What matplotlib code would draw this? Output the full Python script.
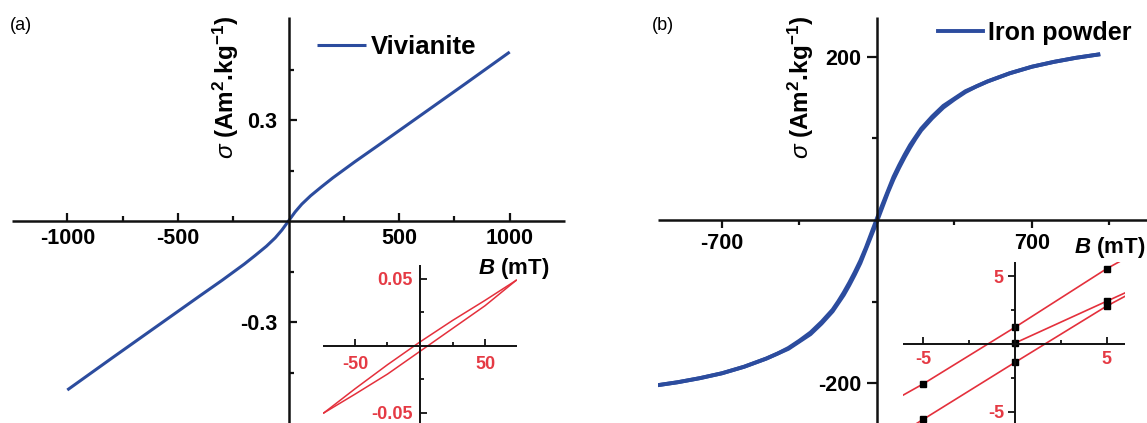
import matplotlib
matplotlib.use("Agg")
import matplotlib.pyplot as plt

# ---------------- data ----------------
viv_B = [-1000, -800, -600, -400, -300, -200, -150, -100, -60, -30, 0,
         30, 60, 100, 150, 200, 300, 400, 600, 800, 1000]
viv_sigma = [-0.502, -0.408, -0.315, -0.222, -0.176, -0.128, -0.102, -0.075, -0.050, -0.027, 0.0,
             0.027, 0.050, 0.075, 0.102, 0.128, 0.176, 0.222, 0.315, 0.408, 0.502]

loopa_B_desc = [74, 50, 25, 0, -25, -50, -74]
loopa_sig_desc = [0.049, 0.034, 0.019, 0.003, -0.014, -0.032, -0.050]
loopa_B_asc = [-74, -50, -25, 0, 25, 50, 74]
loopa_sig_asc = [-0.050, -0.036, -0.021, -0.004, 0.013, 0.030, 0.049]

iron_B = [-1000, -900, -800, -700, -600, -500, -450, -400, -350, -300, -250, -200, -175,
          -150, -125, -100, -75, -50, -25, 0, 25, 50, 75, 100, 125, 150, 175, 200, 250,
          300, 350, 400, 450, 500, 600, 700, 800, 900, 1000]
iron_sig_desc = [-203, -199, -194, -188, -180, -170, -164, -157, -148, -138, -125, -110, -100,
                 -89, -77, -64, -50, -34, -16, 2, 19, 36, 53, 67, 80, 92, 102, 112, 127,
                 140, 149, 158, 164, 170, 180, 188, 194, 199, 203]
iron_sig_asc = [-203, -199, -194, -188, -180, -170, -164, -158, -149, -140, -127, -112, -102,
                -92, -80, -67, -53, -36, -19, -2, 16, 34, 50, 64, 77, 89, 100, 110, 125,
                138, 148, 157, 164, 170, 180, 188, 194, 199, 203]

loopb_B_desc = [5.7, 5, 0, -5, -6.1]
loopb_sig_desc = [6.05, 5.53, 1.23, -2.92, -3.75]
loopb_B_asc = [-6.1, -5, 0, 5, 6.0]
loopb_sig_asc = [-6.45, -5.53, -1.35, 2.78, 3.50]
loopb_B_init = [0, 5, 6.0]
loopb_sig_init = [0.07, 3.14, 3.75]

a_xmajor = [-1000, -500, 500, 1000]
a_xmajor_lbl = ["-1000", "-500", "500", "1000"]
a_xminor = [-750, -250, 250, 750]
a_ymajor = [-0.3, 0.3]
a_ymajor_lbl = ["-0.3", "0.3"]
a_yminor = [-0.45, -0.15, 0.15, 0.45]

b_xmajor = [-700, 700]
b_xmajor_lbl = ["-700", "700"]
b_xminor = [-350, 350, 1050]
b_ymajor = [-200, 200]
b_ymajor_lbl = ["-200", "200"]
b_yminor = [-100, 100]

ia_xmajor = [-50, 50]; ia_xmajor_lbl = ["-50", "50"]; ia_xminor = [-25, 25]
ia_ymajor = [-0.05, 0.05]; ia_ymajor_lbl = ["-0.05", "0.05"]; ia_yminor = [-0.025, 0.025]
ib_xmajor = [-5, 5]; ib_xmajor_lbl = ["-5", "5"]; ib_xminor = [-2.5, 2.5]
ib_ymajor = [-5, 5]; ib_ymajor_lbl = ["-5", "5"]; ib_yminor = [-2.5, 2.5]

# ---------------- style ----------------
plt.rcParams['font.family'] = ['Liberation Sans', 'DejaVu Sans']
plt.rcParams['mathtext.fontset'] = 'custom'
plt.rcParams['mathtext.rm'] = 'Liberation Sans:bold'
plt.rcParams['mathtext.bf'] = 'Liberation Sans:bold'
plt.rcParams['mathtext.it'] = 'Liberation Sans:bold:italic'
plt.rcParams['mathtext.sf'] = 'Liberation Sans:italic'

BLUE = '#2c4c9e'
RED = '#e4303c'
RED_TXT = '#e53a44'

W, H = 1147, 423
fig = plt.figure(figsize=(W / 100, H / 100), dpi=100)


def rect(x0, y0, x1, y1):
    return [x0 / W, 1 - y1 / H, (x1 - x0) / W, (y1 - y0) / H]


def fx(x):
    return x / W


def fy(y):
    return 1 - y / H


def setup(ax, xlim, ylim, lw, xdir, ydir, major_len, minor_len, tw):
    ax.set_xlim(*xlim)
    ax.set_ylim(*ylim)
    ax.set_facecolor('none')
    for s in ('top', 'right'):
        ax.spines[s].set_visible(False)
    for s in ('left', 'bottom'):
        ax.spines[s].set_position(('data', 0))
        ax.spines[s].set_linewidth(lw)
        ax.spines[s].set_color('#111111')
        ax.spines[s].set_capstyle('butt')
    ax.tick_params(axis='x', which='both', direction=xdir, width=tw, color='#111111')
    ax.tick_params(axis='y', which='both', direction=ydir, width=tw, color='#111111')
    ax.tick_params(which='major', length=major_len)
    ax.tick_params(which='minor', length=minor_len)


YLABEL = r'$\mathsf{\sigma}$ (Am$^{2}$.kg$^{-1}$)'

# ---------------- panel (a) ----------------
axa = fig.add_axes(rect(12, 17, 565, 423))
setup(axa, (-1250, 1250), (-0.6, 0.606), 1.8, 'in', 'in', 6, 3.5, 1.6)
axa.plot(viv_B, viv_sigma, color=BLUE, lw=2.2, solid_capstyle='butt',
         solid_joinstyle='round', label='Vivianite')
axa.set_xticks(a_xmajor)
axa.set_xticklabels(a_xmajor_lbl)
axa.set_xticks(a_xminor, minor=True)
axa.set_yticks(a_ymajor)
axa.set_yticklabels(a_ymajor_lbl)
axa.set_yticks(a_yminor, minor=True)
axa.tick_params(axis='x', labelsize=15.5, pad=5)
axa.tick_params(axis='y', labelsize=15.5, pad=8)
for t in axa.get_xticklabels() + axa.get_yticklabels():
    t.set_fontweight('bold')
axa.legend(loc='center left', bbox_to_anchor=(fx(317), fy(47)), bbox_transform=fig.transFigure,
           frameon=False, prop={'weight': 'bold', 'size': 18.5},
           handlelength=1.9, handletextpad=0.2, borderpad=0, borderaxespad=0)

# inset (a)
ia = fig.add_axes(rect(323, 265, 517, 423))
setup(ia, (-74.6, 74.6), (-0.0575, 0.0604), 1.4, 'in', 'in', 5, 3, 1.3)
ia.plot(loopa_B_desc, loopa_sig_desc, color=RED, lw=1.1)
ia.plot(loopa_B_asc, loopa_sig_asc, color=RED, lw=1.1)
ia.set_xticks(ia_xmajor)
ia.set_xticklabels(ia_xmajor_lbl)
ia.set_xticks(ia_xminor, minor=True)
ia.set_yticks(ia_ymajor)
ia.set_yticklabels(ia_ymajor_lbl)
ia.set_yticks(ia_yminor, minor=True)
ia.tick_params(axis='x', labelsize=13, pad=7, labelcolor=RED_TXT)
ia.tick_params(axis='y', labelsize=13, pad=5, labelcolor=RED_TXT)
for t in ia.get_xticklabels() + ia.get_yticklabels():
    t.set_fontweight('bold')

fig.text(fx(10), fy(25), '(a)', fontsize=13, ha='left', va='center')
fig.text(fx(226), fy(88), YLABEL, rotation=90,
         fontsize=17.5, fontweight='bold', ha='center', va='center')
fig.text(fx(478), fy(268), r'$B$ (mT)', fontsize=16, fontweight='bold',
         ha='left', va='center')

# ---------------- panel (b) ----------------
axb = fig.add_axes(rect(658, 17, 1147, 423))
setup(axb, (-989, 1220), (-249, 249), 1.8, 'out', 'out', 6, 3.5, 1.6)
axb.plot(iron_B, iron_sig_asc, color=BLUE, lw=2.8, solid_joinstyle='round', label='Iron powder')
axb.plot(iron_B, iron_sig_desc, color=BLUE, lw=2.8, solid_joinstyle='round')
axb.set_xticks(b_xmajor)
axb.set_xticklabels(b_xmajor_lbl)
axb.set_xticks(b_xminor, minor=True)
axb.set_yticks(b_ymajor)
axb.set_yticklabels(b_ymajor_lbl)
axb.set_yticks(b_yminor, minor=True)
axb.tick_params(axis='x', labelsize=15.5, pad=3)
axb.tick_params(axis='y', labelsize=15.5, pad=4)
axb.tick_params(axis='y', which='major', length=7.5)
for t in axb.get_xticklabels() + axb.get_yticklabels():
    t.set_fontweight('bold')
axb.legend(loc='center left', bbox_to_anchor=(fx(938), fy(33)), bbox_transform=fig.transFigure,
           frameon=False, prop={'weight': 'bold', 'size': 18},
           handlelength=1.8, handletextpad=0.2, borderpad=0, borderaxespad=0)

# inset (b)
ib = fig.add_axes(rect(903, 262, 1125, 423))
setup(ib, (-6.12, 6.01), (-5.81, 6.03), 1.4, 'in', 'out', 5, 3, 1.3)
mk = dict(marker='s', markersize=4, markerfacecolor='black', markeredgecolor='black')
ib.plot(loopb_B_desc, loopb_sig_desc, color=RED, lw=1.2, markevery=[1, 2, 3], **mk)
ib.plot(loopb_B_asc, loopb_sig_asc, color=RED, lw=1.2, markevery=[1, 2, 3], **mk)
ib.plot(loopb_B_init, loopb_sig_init, color=RED, lw=1.2, markevery=[0, 1], **mk)
ib.set_xticks(ib_xmajor)
ib.set_xticklabels(ib_xmajor_lbl)
ib.set_xticks(ib_xminor, minor=True)
ib.set_yticks(ib_ymajor)
ib.set_yticklabels(ib_ymajor_lbl)
ib.set_yticks(ib_yminor, minor=True)
ib.tick_params(axis='x', labelsize=13, pad=5, labelcolor=RED_TXT)
ib.tick_params(axis='y', labelsize=13, pad=3, labelcolor=RED_TXT)
for t in ib.get_xticklabels() + ib.get_yticklabels():
    t.set_fontweight('bold')

fig.text(fx(652), fy(25), '(b)', fontsize=13, ha='left', va='center')
fig.text(fx(801), fy(88), YLABEL, rotation=90,
         fontsize=17.5, fontweight='bold', ha='center', va='center')
fig.text(fx(1074), fy(247), r'$B$ (mT)', fontsize=16, fontweight='bold',
         ha='left', va='center')

fig.savefig('out.png', dpi=100)
